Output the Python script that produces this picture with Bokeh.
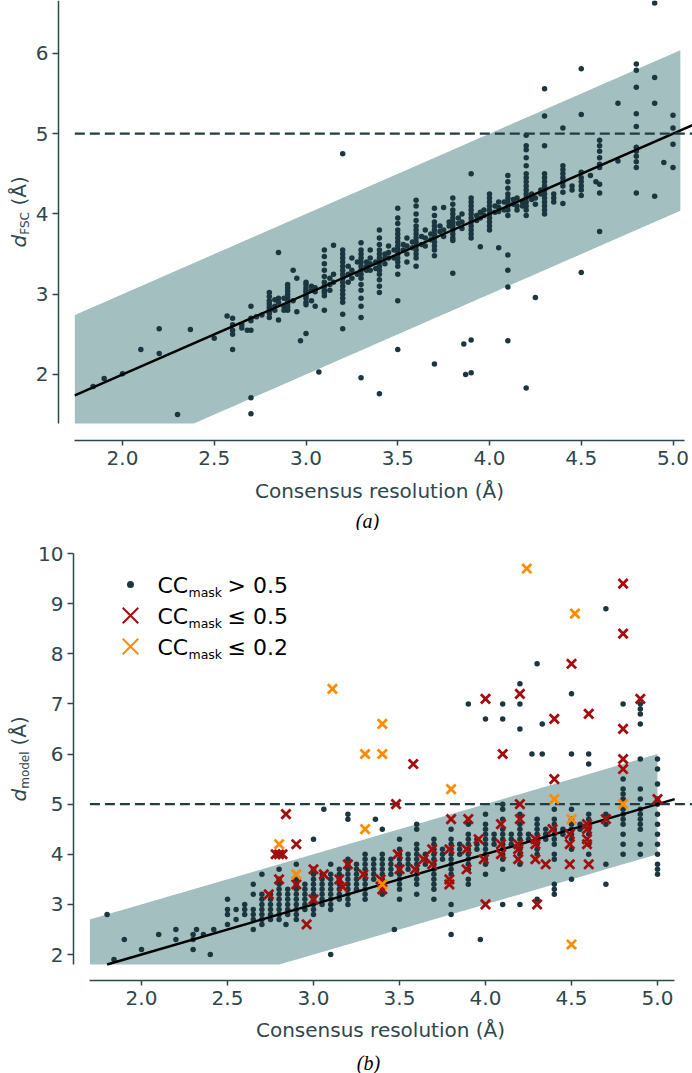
import numpy as np
from bokeh.plotting import figure
from bokeh.layouts import column
from bokeh.models import Label, FixedTicker, NumeralTickFormatter, Range1d
from bokeh.embed import file_html
from bokeh.resources import INLINE

# ---------------- panel (a): consensus resolution vs d_FSC ----------------
a_res = [1.84, 1.9, 2.0, 2.1, 2.2, 2.3, 2.37, 2.5, 2.57, 2.6, 2.65, 2.68, 2.7, 2.73, 2.76,
         2.8, 2.83, 2.85, 2.88, 2.9, 2.93, 2.95, 2.97, 3.0, 3.03, 3.05, 3.07, 3.1, 3.13, 3.15,
         3.2, 3.23, 3.25, 3.28, 3.3, 3.33, 3.35, 3.38, 3.4, 3.43, 3.45, 3.48, 3.5, 3.53, 3.55,
         3.58, 3.6, 3.63, 3.65, 3.68, 3.7, 3.73, 3.75, 3.78, 3.8, 3.83, 3.85, 3.86, 3.87, 3.9,
         3.93, 3.95, 3.97, 4.0, 4.03, 4.05, 4.08, 4.1, 4.13, 4.15, 4.18, 4.2, 4.23, 4.25, 4.28,
         4.3, 4.35, 4.4, 4.45, 4.5, 4.55, 4.58, 4.6, 4.7, 4.8, 4.9, 4.95, 5.0]
a_dfsc = [
    [1.85], [1.95], [2.01], [2.31], [2.26, 2.57], [1.50], [2.56], [2.45], [2.73],
    [2.70, 2.62, 2.55, 2.50, 2.31], [2.62, 2.58], [2.55],
    [2.85, 2.70, 2.67, 2.55, 1.71, 1.51], [2.72], [2.74],
    [3.02, 2.97, 2.92, 2.88, 2.84, 2.80, 2.76, 2.71], [2.93, 2.85, 2.80],
    [3.52, 2.95, 2.90, 2.68], [2.95, 2.85, 2.80],
    [3.12, 3.08, 3.04, 3.00, 2.96, 2.92, 2.88, 2.84, 2.80], [3.30, 2.92], [3.20, 2.78], [2.42],
    [3.15, 3.12, 3.08, 3.05, 3.02, 2.98, 2.95, 2.90, 2.87, 2.51], [3.10, 3.05, 2.92],
    [3.08, 3.03, 2.85], [2.03],
    [3.55, 3.47, 3.38, 3.30, 3.22, 3.15, 3.10, 3.05, 3.02, 2.98, 2.80], [3.20, 3.12, 3.05],
    [3.61, 3.25, 3.15],
    [4.75, 3.55, 3.50, 3.45, 3.40, 3.35, 3.30, 3.25, 3.20, 3.15, 3.10, 3.05, 3.00, 2.95, 2.90, 2.75, 2.57],
    [3.35, 3.25, 3.15], [3.45, 3.30, 3.20], [3.40, 3.25],
    [3.64, 3.55, 3.50, 3.45, 3.40, 3.35, 3.30, 3.25, 3.20, 3.12, 3.05, 2.95, 2.85, 2.71, 1.96],
    [3.40, 3.35, 3.30], [3.55, 3.45, 3.38, 3.30], [3.40, 3.32],
    [3.80, 3.70, 3.62, 3.55, 3.50, 3.45, 3.40, 3.35, 3.30, 3.25, 3.18, 3.10, 3.02, 1.76],
    [3.50, 3.45, 3.38], [3.60, 3.52, 3.45], [3.55, 3.45],
    [4.07, 3.95, 3.88, 3.80, 3.75, 3.70, 3.65, 3.60, 3.55, 3.50, 3.45, 3.40, 3.35, 3.25, 2.92, 2.31],
    [3.62, 3.55], [3.70, 3.60, 3.50, 3.40], [3.65, 3.58],
    [4.17, 4.10, 4.00, 3.92, 3.85, 3.80, 3.75, 3.70, 3.65, 3.60, 3.55, 3.50, 3.45, 3.35],
    [3.72, 3.62], [3.80, 3.70, 3.60], [3.75, 3.68],
    [4.07, 3.98, 3.90, 3.85, 3.80, 3.75, 3.70, 3.65, 3.60, 3.55, 3.48, 2.13],
    [3.85, 3.78], [4.08, 3.80, 3.72], [3.90, 3.85],
    [4.20, 4.12, 4.05, 4.00, 3.95, 3.90, 3.85, 3.80, 3.75, 3.70, 3.67, 3.26],
    [3.95, 3.88], [4.00, 3.90, 3.82], [2.38], [2.00],
    [4.50, 4.20, 4.15, 4.10, 4.05, 4.00, 3.95, 3.90, 3.85, 3.80, 3.75, 3.70, 2.43, 2.02],
    [3.98, 3.92], [4.02, 3.95, 3.59], [4.05, 3.98],
    [4.25, 4.20, 4.15, 4.10, 4.05, 4.00, 3.95, 3.90, 3.85, 3.80],
    [4.10, 4.02], [4.15, 4.08, 4.03, 3.58], [4.15, 4.05],
    [4.48, 4.40, 4.32, 4.25, 4.20, 4.15, 4.10, 4.05, 3.98, 3.49, 3.30, 3.09, 2.42],
    [4.18, 4.12], [4.20, 4.10, 4.05], [4.15, 4.10],
    [4.98, 4.85, 4.80, 4.70, 4.60, 4.50, 4.45, 4.40, 4.35, 4.30, 4.25, 4.20, 4.15, 4.10, 4.05, 3.98, 1.83],
    [4.25, 4.18], [4.20, 4.12, 2.96], [4.30, 4.25],
    [5.56, 5.22, 4.85, 4.50, 4.45, 4.40, 4.35, 4.30, 4.25, 4.20, 4.15, 4.10, 4.05, 4.00],
    [4.25, 4.20, 4.15],
    [5.07, 4.60, 4.55, 4.50, 4.45, 4.40, 4.35, 4.27, 4.13],
    [4.35, 4.30],
    [5.81, 5.24, 4.52, 4.45, 4.40, 4.35, 4.30, 4.23, 3.27],
    [4.48], [4.40],
    [4.92, 4.85, 4.78, 4.70, 4.62, 4.58, 4.37, 4.26, 3.78],
    [5.38, 4.66],
    [5.87, 5.79, 5.58, 5.25, 5.09, 4.83, 4.78, 4.72, 4.65, 4.58, 4.26],
    [6.63, 5.70, 5.38, 4.22], [4.64], [5.23, 5.07, 4.87, 4.58],
]

# ---------------- panel (b): consensus resolution vs d_model ----------------
b_res = [1.8, 1.84, 1.9, 2.0, 2.1, 2.2, 2.3, 2.32, 2.36, 2.4, 2.42, 2.5, 2.55, 2.6, 2.65,
         2.7, 2.75, 2.8, 2.84, 2.85, 2.9, 2.95, 3.0, 3.05, 3.06, 3.1, 3.15, 3.2, 3.25, 3.3,
         3.35, 3.36, 3.4, 3.45, 3.47, 3.5, 3.55, 3.6, 3.65, 3.7, 3.75, 3.8, 3.85, 3.9, 3.95,
         3.97, 4.0, 4.05, 4.1, 4.15, 4.2, 4.25, 4.27, 4.3, 4.33, 4.35, 4.4, 4.45, 4.5, 4.55,
         4.6, 4.7, 4.8, 4.9, 5.0]
b_dmodel = [
    [2.8], [1.9], [2.3], [2.1], [2.4], [2.5, 2.3], [2.4, 2.3, 2.1], [2.5], [2.4], [2.0], [2.5],
    [3.1, 2.9, 2.8, 2.6], [2.9, 2.7], [3.0, 2.9, 2.8],
    [3.4, 3.2, 2.9, 2.8, 2.7, 2.5],
    [3.6, 3.2, 3.1, 3.0, 2.9, 2.8, 2.7, 2.6],
    [3.2, 3.1, 3.0, 2.9, 2.8, 2.7],
    [3.7, 3.5, 3.4, 3.3, 3.2, 3.1, 3.0, 2.9, 2.8, 2.7],
    [2.6],
    [3.3, 3.2, 3.1, 3.0, 2.9, 2.8],
    [3.8, 3.5, 3.4, 3.3, 3.2, 3.1, 3.0, 2.9, 2.8, 2.7],
    [3.4, 3.3, 3.2, 3.1, 3.0, 2.9],
    [4.3, 3.7, 3.6, 3.5, 3.4, 3.3, 3.2, 3.1, 3.0, 2.9, 2.8],
    [3.6, 3.5, 3.4, 3.3, 3.2, 3.1, 3.0],
    [4.9],
    [3.8, 3.6, 3.5, 3.4, 3.3, 3.2, 3.1, 3.0, 2.9, 2.0],
    [3.7, 3.6, 3.5, 3.4, 3.3, 3.2, 3.1],
    [4.8, 4.7, 3.9, 3.8, 3.7, 3.6, 3.5, 3.4, 3.3, 3.2, 3.1, 3.0],
    [3.8, 3.7, 3.6, 3.5, 3.4, 3.3],
    [4.0, 3.9, 3.8, 3.7, 3.6, 3.5, 3.4, 3.3, 3.2, 3.1],
    [3.9, 3.8, 3.7, 3.6, 3.5],
    [4.7],
    [4.5, 4.0, 3.9, 3.8, 3.7, 3.6, 3.5, 3.4, 3.3, 3.2],
    [3.9, 3.8, 3.7, 3.6],
    [2.5],
    [4.3, 4.1, 4.0, 3.9, 3.8, 3.7, 3.6, 3.5, 3.4, 3.3, 3.1],
    [4.0, 3.9, 3.8, 3.7],
    [4.6, 4.5, 4.2, 4.1, 4.0, 3.9, 3.8, 3.7, 3.6, 3.5, 3.4, 3.2],
    [4.0, 3.9, 3.8],
    [4.3, 4.2, 4.1, 4.0, 3.9, 3.8, 3.7, 3.6, 3.5, 3.4, 3.3, 3.1],
    [4.1, 4.0, 3.9],
    [4.5, 4.3, 4.2, 4.1, 4.0, 3.9, 3.8, 3.7, 3.6, 3.0, 2.8, 2.4],
    [4.2, 4.1, 4.0],
    [7.0, 4.6, 4.4, 4.3, 4.2, 4.1, 4.0, 3.9, 3.8, 3.7, 3.5, 3.4],
    [4.3, 4.2, 4.1],
    [2.3],
    [6.7, 4.8, 4.6, 4.5, 4.4, 4.3, 4.2, 4.1, 4.0, 3.9, 3.8, 3.6],
    [4.4, 4.3, 4.2],
    [7.0, 6.7, 5.0, 4.9, 4.7, 4.5, 4.4, 4.3, 4.2, 4.1, 4.0, 3.9, 3.7, 3.0],
    [4.4, 4.3, 4.2],
    [7.4, 7.0, 6.5, 4.8, 4.6, 4.5, 4.4, 4.3, 4.2, 4.1, 4.0, 3.8, 3.0],
    [4.4, 4.3],
    [6.0],
    [7.8, 4.7, 4.6, 4.5, 4.4, 4.3, 4.2, 4.1, 4.0, 3.1],
    [6.6, 6.0],
    [4.5, 4.4, 4.3],
    [4.9, 4.7, 4.6, 4.5, 4.4, 4.3, 4.2, 4.0, 3.9, 3.4, 3.3, 3.2],
    [4.5, 4.4],
    [7.2, 6.0, 4.9, 4.7, 4.6, 4.5, 4.4, 4.3, 4.1, 3.5],
    [4.6, 4.5],
    [6.0, 5.8, 4.8, 4.7, 4.6, 4.5, 4.4, 4.2, 4.0],
    [8.9, 4.8, 4.6, 3.8, 3.4],
    [7.0, 5.5, 5.3, 5.2, 5.1, 4.9, 4.8, 4.7, 4.6, 4.4, 4.2, 4.0],
    [7.0, 6.9, 6.8, 6.6, 5.9, 5.3, 5.1, 4.9, 4.8, 4.7, 4.6, 4.5, 4.2, 4.0],
    [5.9, 5.7, 5.4, 5.1, 5.0, 4.8, 4.6, 4.4, 4.2, 4.0, 3.8, 3.7, 3.6],
]

# CC_mask <= 0.5 (red crosses)
red_res = [2.74, 2.78, 2.8, 2.82, 2.8, 2.84, 2.9, 2.9, 2.96, 3.0, 3.0, 3.06, 3.15, 3.17, 3.2,
           3.29, 3.39, 3.4, 3.48, 3.49, 3.5, 3.59, 3.58, 3.64, 3.69, 3.69, 3.79, 3.79, 3.79, 3.8,
           3.89, 3.89, 3.9, 3.96, 3.99, 4.0, 4.0, 4.09, 4.09, 4.09, 4.1, 4.19, 4.19, 4.19, 4.2,
           4.2, 4.2, 4.29, 4.29, 4.29, 4.3, 4.35, 4.39, 4.4, 4.4, 4.49, 4.49, 4.49, 4.5, 4.59,
           4.59, 4.59, 4.59, 4.6, 4.6, 4.7, 4.8, 4.8, 4.8, 4.8, 4.8, 4.9, 5.0]
red_dmodel = [3.2, 4.0, 4.0, 4.0, 3.5, 4.8, 4.2, 3.4, 2.6, 3.7, 3.1, 3.6, 3.5, 3.35, 3.8,
              3.6, 3.5, 3.3, 5.0, 4.0, 3.7, 3.7, 5.8, 3.9, 4.1, 3.8, 4.1, 3.5, 3.4, 4.7,
              4.1, 3.7, 4.7, 4.3, 3.9, 7.1, 3.0, 4.6, 4.2, 4.0, 6.0, 4.2, 4.1, 3.9, 7.2,
              5.0, 4.7, 4.3, 4.2, 3.9, 3.0, 3.8, 4.5, 6.7, 5.5, 4.4, 4.2, 3.8, 7.8, 4.6,
              4.5, 4.3, 4.2, 3.8, 6.8, 4.7, 9.4, 8.4, 6.5, 5.9, 5.7, 7.1, 5.1]

# CC_mask <= 0.2 (orange crosses)
orange_res = [4.24, 4.52, 3.11, 3.4, 3.3, 3.4, 3.8, 4.4, 4.8, 3.3, 4.5, 2.8, 2.9, 3.4, 4.5]
orange_dmodel = [9.7, 8.8, 7.3, 6.6, 6.0, 6.0, 5.3, 5.1, 5.0, 4.5, 4.7, 4.2, 3.6, 3.4, 2.2]

fit_slope = 1.0
fit_intercept = 0.0
band_halfwidth = 1.0
threshold = 5.0

x_ticks = [2.0, 2.5, 3.0, 3.5, 4.0, 4.5, 5.0]
a_y_ticks = [2, 3, 4, 5, 6]
b_y_ticks = [2, 3, 4, 5, 6, 7, 8, 9, 10]

assert len(a_res) == len(a_dfsc) and len(b_res) == len(b_dmodel)
assert len(red_res) == len(red_dmodel) and len(orange_res) == len(orange_dmodel)

# ---------------- styling ----------------
SLATE = "#2e474d"
DOT = "#1b363f"
BAND = "#a3bfbf"
RED = "#a50d0d"
ORANGE = "#ff8c00"
FONT = "DejaVu Sans"
W = 692
ANG = np.pi / 2


def flatten(xs, cols):
    X, Y = [], []
    for x, ys in zip(xs, cols):
        X.extend([x] * len(ys))
        Y.extend(ys)
    return X, Y


def scale(ref_px, ref_val, px_per_unit, flip=False):
    # maps a picture pixel to a data value (layout helper only)
    if flip:
        return lambda p: ref_val - (p - ref_px) / px_per_unit
    return lambda p: ref_val + (p - ref_px) / px_per_unit


def make_fig(height, X, Y, top_px, xb, yb, yticks, yaxis_px, xaxis_px):
    xr = (X(0), X(W))
    yr = (Y(top_px + height), Y(top_px))
    p = figure(width=W, height=height, x_range=Range1d(*xr), y_range=Range1d(*yr),
               output_backend="svg", toolbar_location=None, min_border=0)
    p.outline_line_color = None
    p.xgrid.visible = False
    p.ygrid.visible = False
    p.background_fill_color = "white"
    p.border_fill_color = "white"
    for ax in (p.xaxis[0], p.yaxis[0]):
        ax.axis_line_color = SLATE
        ax.axis_line_width = 1.5
        ax.major_tick_line_color = SLATE
        ax.major_tick_line_width = 1.5
        ax.major_tick_in = 0
        ax.minor_tick_line_color = None
        ax.major_label_text_font = FONT
        ax.major_label_text_font_size = "20px"
        ax.major_label_text_color = SLATE
    p.xaxis.major_label_standoff = 5
    p.yaxis.major_label_standoff = 4
    p.xaxis.major_tick_out = 5
    p.yaxis.major_tick_out = 6
    p.xaxis.bounds = xb
    p.yaxis.bounds = yb
    p.xaxis.fixed_location = Y(xaxis_px)
    p.yaxis.fixed_location = X(yaxis_px)
    p.xaxis.ticker = FixedTicker(ticks=x_ticks)
    p.yaxis.ticker = FixedTicker(ticks=yticks)
    p.xaxis.formatter = NumeralTickFormatter(format="0.0")
    p.yaxis.formatter = NumeralTickFormatter(format="0")
    return p, xr, yr


def draw_band(p, xb, yb, band_end):
    xs = np.linspace(xb[0], band_end, 400)
    fit = fit_slope * xs + fit_intercept
    p.varea(x=xs, y1=np.maximum(fit - band_halfwidth, yb[0]), y2=fit + band_halfwidth,
            fill_color=BAND, fill_alpha=1.0)


def draw_lines(p, xb, yb, dash_end, line_end):
    x0 = max(xb[0], (yb[0] - fit_intercept) / fit_slope)
    lx = np.array([x0, line_end])
    p.line(lx, fit_slope * lx + fit_intercept, line_color="black", line_width=2.4)
    p.line([xb[0], dash_end], [threshold, threshold], line_color="#233c42",
           line_width=2.2, line_dash="10 5")


def txt(p, X, Y, px, py, text, size, color="black", style="normal", font=FONT,
        align="left", angle=0.0):
    # all texts are positioned by their vertical middle
    p.add_layout(Label(x=X(px), y=Y(py), text=text, text_font=font,
                       text_font_size=f"{size}px", text_color=color,
                       text_font_style=style, text_align=align,
                       text_baseline="middle", angle=angle))


# ---------------- panel (a) ----------------
XA = scale(122, 2.0, 183.5)
YA = scale(0, 6.66, 80.25, flip=True)
a_xb = (1.74, 5.06)
a_yb = (1.39, 6.66)
pa, a_xr, a_yr = make_fig(530, XA, YA, 0, a_xb, a_yb, a_y_ticks, 58, 440)
draw_band(pa, a_xb, a_yb, 5.04)
ax_, ay_ = flatten(a_res, a_dfsc)
pa.scatter(ax_, ay_, marker="circle", size=5.5, fill_color=DOT, line_color=None)
draw_lines(pa, a_xb, a_yb, a_xr[1], a_xr[1])

txt(pa, XA, YA, 379, 490, "Consensus resolution (Å)", 20, SLATE, align="center")
txt(pa, XA, YA, 18, 247, "d", 20, SLATE, "italic", angle=ANG)
txt(pa, XA, YA, 24.5, 234.3, "FSC", 12, SLATE, angle=ANG)
txt(pa, XA, YA, 18, 205, "(Å)", 20, SLATE, angle=ANG)
txt(pa, XA, YA, 367, 520, "(a)", 20, "black", "italic", font="Liberation Serif",
    align="center")

# ---------------- panel (b) ----------------
XB = scale(141, 2.0, 172.0)
YB = scale(553, 10.0, 50.125, flip=True)
b_xb = (1.70, 5.10)
b_yb = (1.8, 10.0)
pb, b_xr, b_yr = make_fig(543, XB, YB, 530, b_xb, b_yb, b_y_ticks, 73, 980)
draw_band(pb, b_xb, b_yb, 5.0)
bx_, by_ = flatten(b_res, b_dmodel)
pb.scatter(bx_, by_, marker="circle", size=5.5, fill_color=DOT, line_color=None)
draw_lines(pb, b_xb, b_yb, b_xr[1], b_xb[1])
pb.scatter(red_res, red_dmodel, marker="x", size=13, line_color=RED, line_width=2.8)
pb.scatter(orange_res, orange_dmodel, marker="x", size=13, line_color=ORANGE, line_width=2.8)

txt(pb, XB, YB, 380, 1029, "Consensus resolution (Å)", 20, SLATE, align="center")
txt(pb, XB, YB, 18, 801, "d", 20, SLATE, "italic", angle=ANG)
txt(pb, XB, YB, 24.5, 788.3, "model", 12, SLATE, angle=ANG)
txt(pb, XB, YB, 18, 745, "(Å)", 20, SLATE, angle=ANG)
txt(pb, XB, YB, 368, 1062, "(b)", 20, "black", "italic", font="Liberation Serif",
    align="center")

# legend
leg_px = 130
leg_rows = [584, 615, 646]
pb.scatter([XB(leg_px)], [YB(leg_rows[0])], marker="circle", size=7,
           fill_color=DOT, line_color=None)
pb.scatter([XB(leg_px)], [YB(leg_rows[1])], marker="x", size=22, line_color=RED, line_width=2)
pb.scatter([XB(leg_px)], [YB(leg_rows[2])], marker="x", size=22, line_color=ORANGE, line_width=2)
leg_sym = ["> 0.5", "≤ 0.5", "≤ 0.2"]
for rw, rest in zip(leg_rows, leg_sym):
    txt(pb, XB, YB, 157, rw + 1, "CC", 22)
    txt(pb, XB, YB, 188, rw + 8, "mask", 12.5)
    txt(pb, XB, YB, 227, rw + 1, rest, 22)

layout = column(pa, pb, spacing=0)
open("out.html", "w").write(file_html(layout, INLINE))
